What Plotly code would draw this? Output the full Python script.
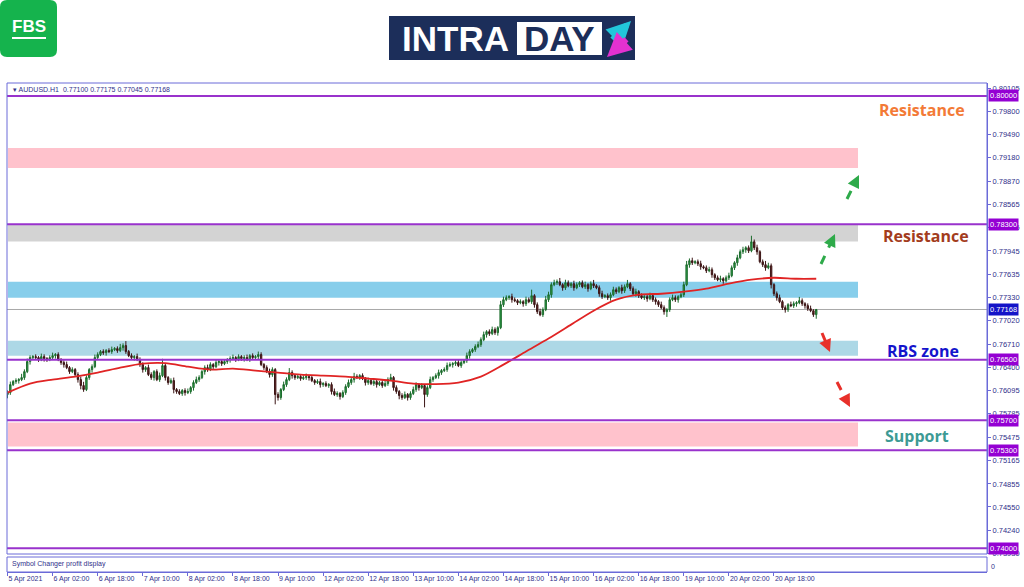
import plotly.graph_objects as go
from datetime import datetime, timedelta

# ---------------- data (AUDUSD H1) ----------------
first_open = 0.76040
close = [
0.76066,0.76172,0.76212,0.76225,0.76238,0.76265,0.76344,0.76477,0.76530,0.76543,
0.76530,0.76503,0.76543,0.76517,0.76503,0.76530,0.76556,0.76570,0.76503,0.76464,
0.76437,0.76397,0.76344,0.76371,0.76305,0.76238,0.76159,0.76106,0.76265,0.76371,
0.76410,0.76530,0.76570,0.76610,0.76596,0.76623,0.76610,0.76636,0.76649,0.76623,
0.76662,0.76689,0.76610,0.76556,0.76530,0.76543,0.76503,0.76437,0.76371,0.76397,
0.76305,0.76265,0.76344,0.76238,0.76291,0.76424,0.76265,0.76199,0.76225,0.76106,
0.76080,0.76053,0.76093,0.76066,0.76080,0.76132,0.76199,0.76238,0.76265,0.76344,
0.76397,0.76371,0.76437,0.76410,0.76464,0.76477,0.76450,0.76477,0.76503,0.76517,
0.76530,0.76503,0.76543,0.76517,0.76530,0.76503,0.76556,0.76530,0.76543,0.76570,
0.76437,0.76397,0.76344,0.76305,0.76371,0.76040,0.76000,0.76106,0.76172,0.76238,
0.76331,0.76291,0.76265,0.76278,0.76252,0.76265,0.76278,0.76265,0.76225,0.76199,
0.76212,0.76172,0.76185,0.76159,0.76172,0.76080,0.76040,0.76053,0.76013,0.76066,
0.76146,0.76199,0.76238,0.76278,0.76265,0.76291,0.76252,0.76199,0.76225,0.76185,
0.76212,0.76172,0.76199,0.76159,0.76185,0.76238,0.76265,0.76132,0.76080,0.76027,
0.76000,0.76040,0.76000,0.76053,0.76106,0.76172,0.76132,0.76159,0.76040,0.76132,
0.76238,0.76265,0.76291,0.76331,0.76358,0.76371,0.76424,0.76437,0.76450,0.76464,
0.76424,0.76464,0.76490,0.76556,0.76610,0.76636,0.76676,0.76702,0.76768,0.76835,
0.76874,0.76848,0.76901,0.76861,0.76927,0.77232,0.77298,0.77325,0.77338,0.77298,
0.77285,0.77258,0.77272,0.77245,0.77298,0.77272,0.77351,0.77232,0.77139,0.77099,
0.77166,0.77298,0.77364,0.77497,0.77523,0.77536,0.77497,0.77457,0.77523,0.77483,
0.77510,0.77457,0.77497,0.77523,0.77470,0.77497,0.77444,0.77510,0.77483,0.77457,
0.77377,0.77338,0.77351,0.77325,0.77364,0.77430,0.77404,0.77457,0.77417,0.77470,
0.77510,0.77444,0.77377,0.77404,0.77351,0.77325,0.77338,0.77311,0.77351,0.77298,
0.77272,0.77232,0.77192,0.77139,0.77166,0.77298,0.77325,0.77298,0.77338,0.77364,
0.77497,0.77762,0.77815,0.77788,0.77801,0.77775,0.77735,0.77722,0.77682,0.77695,
0.77629,0.77589,0.77563,0.77576,0.77549,0.77589,0.77616,0.77722,0.77788,0.77854,
0.77934,0.77960,0.77987,0.77947,0.78066,0.77987,0.77934,0.77801,0.77762,0.77722,
0.77748,0.77497,0.77377,0.77325,0.77272,0.77192,0.77166,0.77232,0.77219,0.77245,
0.77258,0.77285,0.77245,0.77219,0.77179,0.77152,0.77100,0.77168]

# wick lengths in pips above / below the candle body
hi_wick = [
3,4,2,3,2,5,3,4,3,2,3,2,4,3,2,3,4,2,3,2,3,4,2,3,
2,3,4,5,3,2,3,4,3,2,3,2,3,4,2,3,5,3,6,2,3,2,4,3,
3,2,4,3,2,3,4,9,3,2,3,4,2,3,2,3,4,2,3,4,3,2,3,4,
3,2,4,3,2,3,2,3,4,2,3,2,3,4,2,3,2,4,3,2,3,4,3,2,
3,2,4,3,6,3,2,3,2,3,4,2,3,2,3,4,2,3,2,3,4,3,2,3,
3,4,2,5,3,2,3,2,4,3,2,3,2,3,4,3,5,2,3,2,3,4,2,3,
4,3,2,3,2,3,4,2,3,4,2,3,4,3,2,3,4,3,2,4,3,2,3,4,
3,4,2,3,4,3,2,5,4,3,2,4,3,2,3,2,4,3,8,2,3,4,3,5,
4,3,4,3,5,2,4,3,2,4,3,2,3,4,2,3,5,2,3,4,2,3,3,4,
3,2,4,3,5,2,3,4,2,3,2,3,4,2,3,2,4,3,2,3,4,3,2,3,
4,5,3,4,2,3,4,2,3,4,3,2,3,4,2,3,4,3,2,4,3,4,2,3,
8,3,4,2,3,5,4,3,2,3,4,2,3,2,4,3,2,5,3,2,3,4,2,0]
lo_wick = [
5,3,2,3,4,2,3,2,4,3,2,3,2,4,3,2,3,4,2,3,4,2,3,2,
3,4,5,3,2,3,4,2,3,2,3,4,2,3,2,3,2,4,3,2,3,4,2,3,
4,3,2,3,4,2,3,2,4,3,2,5,3,2,3,4,2,3,4,2,3,2,4,3,
2,3,2,4,3,2,3,4,2,3,2,3,4,2,3,2,3,4,2,3,2,4,3,13,
4,3,2,3,2,4,3,2,3,2,3,4,2,3,2,4,3,2,3,4,2,3,4,2,
3,2,3,4,2,3,2,4,3,2,3,4,2,3,2,3,2,4,3,5,3,2,4,3,
2,3,4,2,17,3,2,3,2,4,3,2,3,2,4,3,2,3,2,3,4,2,3,2,
3,2,4,3,2,3,4,2,3,2,3,4,2,3,2,4,3,2,3,4,3,2,3,2,
3,4,2,3,2,4,3,2,3,4,2,3,2,3,4,2,3,2,4,3,2,3,4,2,
3,2,4,3,2,3,2,4,3,2,3,4,2,3,4,3,2,4,7,3,2,3,4,2,
3,2,4,3,2,3,4,2,3,2,4,3,2,3,4,2,3,2,3,4,2,3,4,3,
2,3,4,2,3,4,2,5,3,4,2,3,4,3,2,3,4,2,3,4,3,2,3,0]

header_ohlc = [0.77100, 0.77175, 0.77045, 0.77168]   # last bar O H L C

# red moving average, read every 8 bars
ma_bar = [0,8,16,24,32,40,48,56,64,72,80,88,96,104,112,120,128,136,144,152,
          160,168,176,184,192,200,208,216,224,232,240,248,256,264,272,280,287]
ma_val = [0.76066,0.76185,0.76238,0.76278,0.76331,0.76397,0.76450,0.76457,0.76410,
          0.76371,0.76384,0.76358,0.76331,0.76305,0.76291,0.76278,0.76252,0.76225,
          0.76185,0.76179,0.76199,0.76278,0.76437,0.76610,0.76782,0.76967,0.77152,
          0.77298,0.77364,0.77377,0.77404,0.77444,0.77510,0.77563,0.77589,0.77576,0.77576]

tick_labels = ["5 Apr 2021", "6 Apr 02:00", "6 Apr 18:00", "7 Apr 10:00", "8 Apr 02:00",
               "8 Apr 18:00", "9 Apr 10:00", "12 Apr 02:00", "12 Apr 18:00", "13 Apr 10:00",
               "14 Apr 02:00", "14 Apr 18:00", "15 Apr 10:00", "16 Apr 02:00", "16 Apr 18:00",
               "19 Apr 10:00", "20 Apr 02:00", "20 Apr 18:00"]
price_ticks = [0.80105, 0.79800, 0.79490, 0.79180, 0.78870, 0.78565, 0.78255, 0.77945,
               0.77635, 0.77330, 0.77020, 0.76710, 0.76400, 0.76095, 0.75785, 0.75475,
               0.75165, 0.74855, 0.74550, 0.74240, 0.73930]

level_lines = [0.80000, 0.78300, 0.76500, 0.75700, 0.75300, 0.74000]
zone_low = [0.79046, 0.78070, 0.77325, 0.76556, 0.75351]
zone_high = [0.79311, 0.78288, 0.77536, 0.76755, 0.75669]
zone_color = ["#FFC2CC", "#D3D3D3", "#87CEEB", "#ADD8E6", "#FFC2CC"]
current_price = 0.77168

# ---------------- build bars ----------------
# hourly bars from 5 Apr 2021 10:00, weekends skipped (MT4 style)
times = []
t = datetime(2021, 4, 5, 10)
while len(times) < len(close):
    if t.weekday() < 5:
        times.append(t.strftime("%d %b %H:%M"))
    t += timedelta(hours=1)

opens = [first_open] + close[:-1]
highs = [max(o, c) + w / 10000 for o, c, w in zip(opens, close, hi_wick)]
lows = [min(o, c) - w / 10000 for o, c, w in zip(opens, close, lo_wick)]
opens[-1], highs[-1], lows[-1], close[-1] = header_ohlc

# ---------------- geometry helpers ----------------
W, H = 1024, 587
L, R, T, B = 7, 37, 83, 15
PW, PH = W - L - R, H - T - B
def px(x): return (x - L) / PW
def py(y): return (H - B - y) / PH

FRAME = "#6A6AD8"
AXTXT = "#30308A"
PURPLE = "#9932CC"
SMALL = "Liberation Sans"

fig = go.Figure()
fig.add_trace(go.Candlestick(
    x=times, open=opens, high=highs, low=lows, close=close,
    increasing=dict(line=dict(color="#1C6B2C", width=1), fillcolor="#2DA24A"),
    decreasing=dict(line=dict(color="#3B1515", width=1), fillcolor="#6B2323"),
    whiskerwidth=0, showlegend=False, hoverinfo="skip"))
fig.add_trace(go.Scatter(
    x=[times[i] for i in ma_bar], y=ma_val, mode="lines",
    line=dict(color="#E02424", width=1.8, shape="spline", smoothing=0.8),
    showlegend=False, hoverinfo="skip"))

shapes = []
for lo, hi, col in zip(zone_low, zone_high, zone_color):
    shapes.append(dict(type="rect", xref="paper", yref="y", x0=px(8), x1=px(858),
                       y0=lo, y1=hi, fillcolor=col, line=dict(width=0), layer="below"))
shapes.append(dict(type="line", xref="paper", yref="y", x0=0, x1=1, y0=current_price,
                   y1=current_price, line=dict(color="#A8A8A8", width=1), layer="below"))
for lv in level_lines:
    shapes.append(dict(type="line", xref="paper", yref="y", x0=0, x1=1, y0=lv, y1=lv,
                       line=dict(color=PURPLE, width=2)))
shapes.append(dict(type="rect", xref="paper", yref="paper", x0=px(7), x1=px(987),
                   y0=py(554), y1=py(83), line=dict(color=FRAME, width=1)))
shapes.append(dict(type="rect", xref="paper", yref="paper", x0=px(7), x1=px(987),
                   y0=py(572), y1=py(557), line=dict(color=FRAME, width=1)))

annotations = []
def note(x, y, text, size, color, family=SMALL, xanchor="center", **kw):
    annotations.append(dict(x=px(x), y=py(y), xref="paper", yref="paper", showarrow=False,
                            xanchor=xanchor, yanchor="middle", text=text,
                            font=dict(family=family, size=size, color=color), **kw))

# dashed arrows (tail, head, colour)
arrows = [((847, 199), (859, 175), "#2EAA4A"), ((821, 264), (835, 234), "#2EAA4A"),
          ((822, 333), (830, 352), "#E8302A"), ((837, 382), (850, 407), "#E8302A")]
for (x0, y0), (x1, y1), col in arrows:
    dx, dy = x1 - x0, y1 - y0
    n = (dx * dx + dy * dy) ** 0.5
    ux, uy = dx / n, dy / n
    shapes.append(dict(type="line", xref="paper", yref="paper", x0=px(x0), y0=py(y0),
                       x1=px(x1 - ux * 5), y1=py(y1 - uy * 5),
                       line=dict(color=col, width=3, dash="dash")))
    annotations.append(dict(x=px(x1), y=py(y1), xref="paper", yref="paper", text="",
                            showarrow=True, ax=-ux * 7, ay=-uy * 7, arrowhead=2,
                            arrowsize=1.0, arrowwidth=2.5, arrowcolor=col, standoff=0))

# FBS logo (rounded square)
def rrect(x0, y0, x1, y1, r):
    return (f"M {px(x0 + r)} {py(y0)} L {px(x1 - r)} {py(y0)} Q {px(x1)} {py(y0)} {px(x1)} {py(y0 + r)} "
            f"L {px(x1)} {py(y1 - r)} Q {px(x1)} {py(y1)} {px(x1 - r)} {py(y1)} "
            f"L {px(x0 + r)} {py(y1)} Q {px(x0)} {py(y1)} {px(x0)} {py(y1 - r)} "
            f"L {px(x0)} {py(y0 + r)} Q {px(x0)} {py(y0)} {px(x0 + r)} {py(y0)} Z")
shapes.append(dict(type="path", xref="paper", yref="paper", path=rrect(0, 0, 57, 57, 7),
                   fillcolor="#15B34D", line=dict(width=0)))
shapes.append(dict(type="line", xref="paper", yref="paper", x0=px(12), x1=px(46),
                   y0=py(38), y1=py(38), line=dict(color="white", width=2)))
note(29, 26, "<b>FBS</b>", 17, "white", family="Liberation Sans")
# INTRADAY logo
shapes.append(dict(type="rect", xref="paper", yref="paper", x0=px(389), x1=px(635),
                   y0=py(60), y1=py(16), fillcolor="#1C2E5A", line=dict(width=0)))
shapes.append(dict(type="rect", xref="paper", yref="paper", x0=px(517), x1=px(602),
                   y0=py(55), y1=py(22), fillcolor="white", line=dict(width=0)))
note(455, 39, "<b>INTRA</b>", 35, "white", family="Liberation Sans")
note(559, 39, "<b>DAY</b>", 35, "#1C2E5A", family="Liberation Sans")
annotations.append(dict(x=px(631), y=py(21), xref="paper", yref="paper", text="", showarrow=True,
                        ax=-20, ay=20, arrowhead=2, arrowsize=0.8, arrowwidth=6,
                        arrowcolor="#22C6DA", standoff=0))
annotations.append(dict(x=px(607), y=py(57), xref="paper", yref="paper", text="", showarrow=True,
                        ax=21, ay=-19, arrowhead=2, arrowsize=0.8, arrowwidth=6,
                        arrowcolor="#E331D0", standoff=0))

# header & sub-window text
note(11, 89, "▾ AUDUSD.H1  0.77100 0.77175 0.77045 0.77168", 7, AXTXT, xanchor="left")
note(10, 564, "Symbol Changer profit display", 7, AXTXT, xanchor="left")
note(989, 566, "0", 7, AXTXT, xanchor="left")

# price badges on the right axis
for lv in level_lines:
    annotations.append(dict(x=1, y=lv, xref="paper", yref="y", showarrow=False, xanchor="left",
                            yanchor="middle", xshift=1, text=f"{lv:.5f}", bgcolor="#9400D3",
                            borderpad=1, font=dict(family=SMALL, size=7.5, color="white")))
annotations.append(dict(x=1, y=current_price, xref="paper", yref="y", showarrow=False,
                        xanchor="left", yanchor="middle", xshift=1, text=f"{current_price:.5f}",
                        bgcolor="#1414C8", borderpad=1,
                        font=dict(family=SMALL, size=7.5, color="white")))

# zone labels
zone_text = [("Resistance", 922, 110, "#F37A36"), ("Resistance", 926, 236, "#A33C1D"),
             ("RBS zone", 923, 351, "#1414CC"), ("Support", 917, 436, "#3D9A94")]
for txt, x, y, col in zone_text:
    note(x, y, f"<b>{txt}</b>", 16, col, family="Open Sans")

fig.update_layout(
    width=W, height=H, margin=dict(l=L, r=R, t=T, b=B, autoexpand=False),
    paper_bgcolor="white", plot_bgcolor="white",
    shapes=shapes, annotations=annotations,
    xaxis=dict(type="category", categoryorder="array", categoryarray=times,
               range=[-0.18, 347.6], anchor="free", position=0, automargin=False,
               rangeslider=dict(visible=False), showgrid=False, zeroline=False,
               showline=True, linecolor=FRAME, linewidth=1,
               tickmode="array", tickvals=times[::16][:len(tick_labels)], ticktext=tick_labels,
               ticks="outside", ticklen=3, tickcolor=FRAME, ticklabelposition="outside right",
               tickfont=dict(family=SMALL, size=7, color=AXTXT), tickangle=0),
    yaxis=dict(domain=[(H - B - 554) / PH, 1], side="right", range=[0.73925, 0.80172],
               automargin=False,
               tickmode="array", tickvals=price_ticks, ticktext=[f"{v:.5f}" for v in price_ticks],
               ticks="outside", ticklen=3, tickcolor=FRAME, showgrid=False, zeroline=False,
               showline=True, linecolor=FRAME, linewidth=1,
               tickfont=dict(family=SMALL, size=7.5, color=AXTXT)),
    hovermode=False,
)

fig.write_html("out.html", config={"displayModeBar": False},
               post_script="document.body.style.margin='0';document.body.style.overflow='hidden';")
